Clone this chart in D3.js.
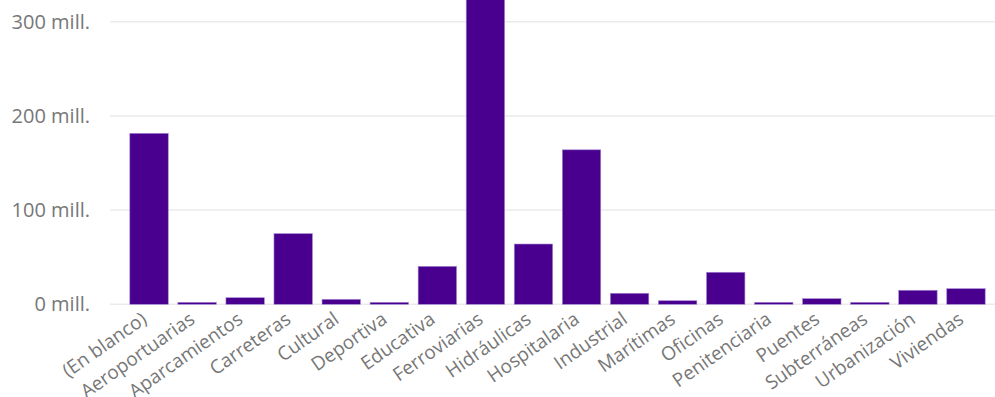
<!DOCTYPE html>
<html>
<head>
<meta charset="utf-8">
<script src="https://cdn.jsdelivr.net/npm/d3@7"></script>
<style>
  body { margin: 0; background: #fff; }
  text { font-family: "Segoe UI", "Open Sans", sans-serif; fill: #777; }
</style>
</head>
<body>
<svg id="chart" width="995" height="397"></svg>
<script>
// categorias y valores (millones)
var categories = ["(En blanco)", "Aeroportuarias", "Aparcamientos", "Carreteras", "Cultural",
  "Deportiva", "Educativa", "Ferroviarias", "Hidráulicas", "Hospitalaria", "Industrial",
  "Marítimas", "Oficinas", "Penitenciaria", "Puentes", "Subterráneas", "Urbanización", "Viviendas"];
var values = [181.5, 2.1, 7, 75, 5.3, 2.1, 40.3, 345, 64, 164, 11.7, 3.8, 34, 2.1, 6, 2.1, 14.9, 16.6];
var yTicks = [0, 100, 200, 300];

var svg = d3.select('#chart');
var x = d3.scaleBand()
        .domain(categories)
        .range([125, 990])
        .paddingInner(0.2)
        .paddingOuter(0.1);
var y = d3.scaleLinear()
        .domain([0, 300])
        .range([304.3, 21.7]);

svg.append("clipPath").attr("id", "plot")
   .append("rect").attr("x", 110).attr("y", 0).attr("width", 885).attr("height", 306);

// gridlines
svg.append("g")
   .selectAll("line")
   .data(yTicks)
   .enter()
   .append("line")
   .attr("x1", 110)
   .attr("x2", 995)
   .attr("y1", function(d) { return y(d); })
   .attr("y2", function(d) { return y(d); })
   .attr("stroke", "#ebebeb")
   .attr("stroke-width", 1.5);

// eje y
var yAxis = svg.append("g")
   .attr("transform", "translate(90,0)")
   .call(d3.axisLeft(y).tickValues(yTicks).tickSize(0).tickPadding(0)
         .tickFormat(function(d) { return d + " mill."; }));
yAxis.select(".domain").remove();
yAxis.selectAll("text")
   .attr("font-size", 20)
   .style("font-family", '"Segoe UI", "Open Sans", sans-serif')
   .attr("fill", "#808080");

// barras
svg.append("g")
   .attr("clip-path", "url(#plot)")
   .selectAll("rect")
   .data(values)
   .enter()
   .append("rect")
   .attr("x", function(d, i) { return x(categories[i]); })
   .attr("y", function(d) { return y(d); })
   .attr("width", x.bandwidth())
   .attr("height", function(d) { return y(0) - y(d); })
   .attr("fill", "#4a008e")
   .attr("stroke", "#a48ad4")
   .attr("stroke-width", 0.6);

// eje x
var xAxis = svg.append("g")
   .attr("transform", "translate(0,306)")
   .call(d3.axisBottom(x).tickSize(0).tickPadding(0));
xAxis.select(".domain").remove();
xAxis.selectAll("text")
   .attr("font-size", 19)
   .style("font-family", '"Segoe UI", "Open Sans", sans-serif')
   .attr("fill", "#808080")
   .attr("text-anchor", "end")
   .attr("dy", "0")
   .attr("transform", "translate(-1,16) rotate(-35)");
</script>
</body>
</html>
